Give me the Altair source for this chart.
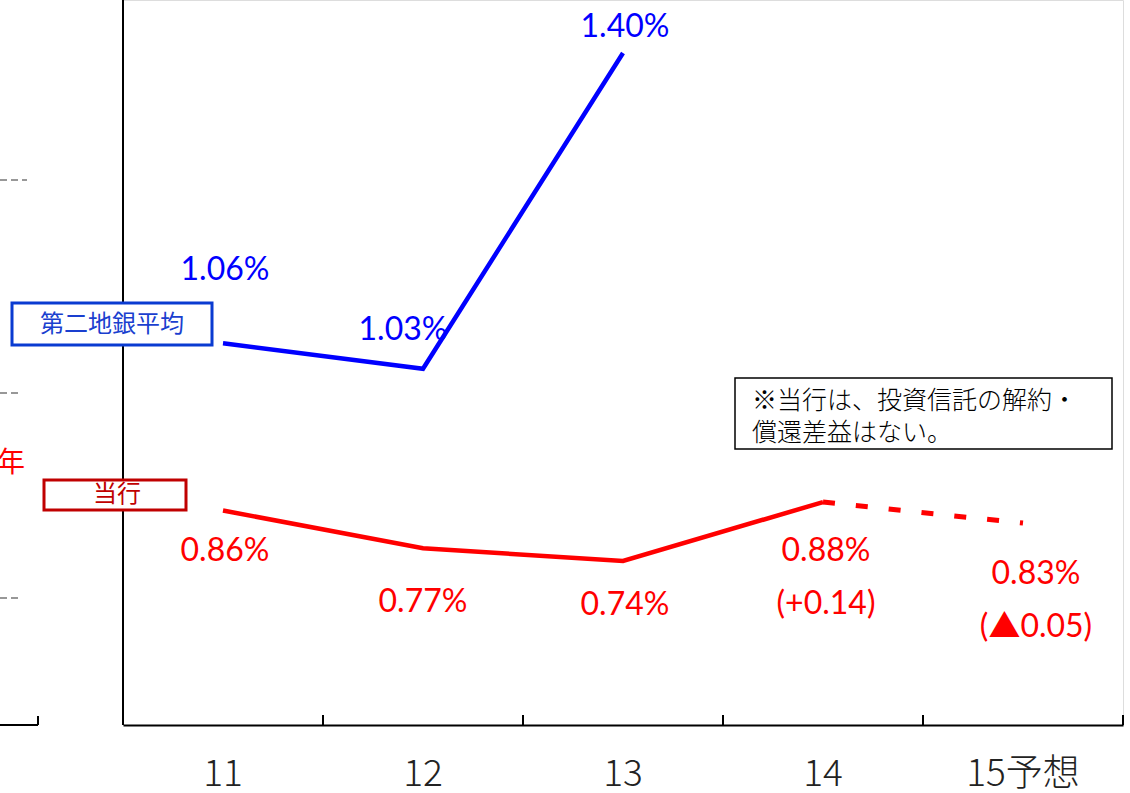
import altair as alt
import pandas as pd

# ---- data ----
years = ["11", "12", "13", "14", "15予想"]
avg_years = ["11", "12", "13"]
avg_values = [1.06, 1.03, 1.40]          # 第二地銀平均
avg_labels = ["1.06%", "1.03%", "1.40%"]
own_values = [0.86, 0.77, 0.74, 0.88, 0.83]  # 当行 (15 = 予想)
own_labels = ["0.86%", "0.77%", "0.74%", "0.88%", "0.83%"]
change_years = ["14", "15予想"]
change_labels = ["(+0.14)", "(▲0.05)"]

avg_df = pd.DataFrame({"year": avg_years, "value": avg_values, "label": avg_labels})
own_df = pd.DataFrame({"year": years, "value": own_values, "label": own_labels})
own_solid = own_df[own_df["year"].isin(["11", "12", "13", "14"])]
own_dash = own_df[own_df["year"].isin(["14", "15予想"])]
chg_df = pd.DataFrame({
    "year": change_years,
    "value": [own_values[years.index(y)] for y in change_years],
    "label": change_labels,
})
years_df = pd.DataFrame({"year": years})
one = pd.DataFrame({"a": [0]})

# ---- style ----
W, H = 1000, 725
BLUE = "#0000ff"
RED = "#ff0000"
JP = "Noto Sans CJK JP"
NUM = "Lato, 'Noto Sans CJK JP'"

xscale = alt.Scale(type="band", domain=years, paddingInner=0, paddingOuter=0)
xaxis = alt.Axis(title=None, domain=True, domainColor="black", domainWidth=2,
                 ticks=False, tickSize=0, labelAngle=0, labelFont=JP,
                 labelFontSize=37, labelFontWeight=300, labelColor="#222222",
                 labelPadding=31, grid=False)
X = alt.X("year:N", scale=xscale, axis=xaxis, bandPosition=0.5, sort=years)

yb = alt.Y("value:Q", scale=alt.Scale(domain=[0.6128, 1.4620], zero=False), axis=None)
yr = alt.Y("value:Q", scale=alt.Scale(domain=[0.3493, 2.0755], zero=False), axis=None)

# label offsets (dx, dy) in px
avg_off = {"11": (2, -73), "12": (-20, -39), "13": (2, -26)}
own_off = {"11": (2, 40), "12": (0, 54), "13": (2, 44), "14": (3, 49), "15予想": (13, 51)}
chg_off = {"14": (3, 102), "15予想": (13, 104)}


def labels(df, offs, color, y):
    layers = []
    for yr_, (dx, dy) in offs.items():
        layers.append(
            alt.Chart(df).transform_filter(alt.datum.year == yr_)
            .mark_text(font=NUM, fontSize=32, color=color, dx=dx, dy=dy,
                       baseline="middle", align="center")
            .encode(x=X, y=y, text="label:N")
        )
    return layers


# ---- blue group ----
blue_line = alt.Chart(avg_df).mark_line(color=BLUE, strokeWidth=4.5).encode(x=X, y=yb)
blue = alt.layer(blue_line, *labels(avg_df, avg_off, BLUE, yb))

# ---- red group ----
red_solid = alt.Chart(own_solid).mark_line(color=RED, strokeWidth=4.5).encode(x=X, y=yr)
red_dash = alt.Chart(own_dash).mark_line(color=RED, strokeWidth=5,
                                          strokeDash=[12, 21]).encode(x=X, y=yr)
red = alt.layer(red_solid, red_dash, *labels(own_df, own_off, RED, yr),
                *labels(chg_df, chg_off, RED, yr))

# ---- frame / decorations ----
base1 = alt.Chart(one)
yaxis_line = base1.mark_rule(color="black", strokeWidth=2).encode(
    x=alt.value(0), y=alt.value(0), y2=alt.value(H))
ticks = alt.Chart(years_df).mark_rule(color="black", strokeWidth=2).encode(
    x=alt.X("year:N", scale=xscale, axis=xaxis, bandPosition=0, sort=years),
    y=alt.value(H - 10), y2=alt.value(H))
end_tick = alt.Chart(years_df).transform_filter(alt.datum.year == "15予想").mark_rule(
    color="black", strokeWidth=2).encode(
    x=alt.X("year:N", scale=xscale, axis=xaxis, bandPosition=1, sort=years),
    y=alt.value(H - 10), y2=alt.value(H))

left_dash = [
    base1.mark_rule(color="#333333", strokeWidth=1.2, strokeDash=[7, 4]).encode(
        x=alt.value(-123), x2=alt.value(-96), y=alt.value(180)),
    base1.mark_rule(color="#333333", strokeWidth=1.2, strokeDash=[7, 4]).encode(
        x=alt.value(-123), x2=alt.value(-101), y=alt.value(393)),
    base1.mark_rule(color="#333333", strokeWidth=1.2, strokeDash=[7, 4]).encode(
        x=alt.value(-123), x2=alt.value(-101), y=alt.value(598)),
    base1.mark_rule(color="black", strokeWidth=2).encode(
        x=alt.value(-123), x2=alt.value(-85), y=alt.value(H)),
    base1.mark_rule(color="black", strokeWidth=2).encode(
        x=alt.value(-85), y=alt.value(H - 9), y2=alt.value(H)),
]
nen = base1.mark_text(text="年", font=JP, fontSize=28, color=RED, align="right",
                      baseline="middle").encode(x=alt.value(-98), y=alt.value(464))

avg_box = base1.mark_rect(fill="white", stroke="#0a3bd1", strokeWidth=3).encode(
    x=alt.value(-111), x2=alt.value(89), y=alt.value(303), y2=alt.value(345))
avg_box_t = base1.mark_text(text="第二地銀平均", font=JP, fontSize=24, color="#1a3fcf",
                            baseline="middle").encode(x=alt.value(-11), y=alt.value(325))
own_box = base1.mark_rect(fill="white", stroke="#c00000", strokeWidth=3).encode(
    x=alt.value(-79), x2=alt.value(63), y=alt.value(480), y2=alt.value(510))
own_box_t = base1.mark_text(text="当行", font=JP, fontSize=24, color="#c00000",
                            baseline="middle").encode(x=alt.value(-6), y=alt.value(495))

note_box = base1.mark_rect(fill="white", stroke="black", strokeWidth=1.5).encode(
    x=alt.value(612), x2=alt.value(989), y=alt.value(378), y2=alt.value(449))
note1 = base1.mark_text(text="※当行は、投資信託の解約・", font=JP, fontSize=25,
                        fontWeight=300, color="black", align="left",
                        baseline="middle").encode(x=alt.value(629), y=alt.value(401))
note2 = base1.mark_text(text="償還差益はない。", font=JP, fontSize=25,
                        fontWeight=300, color="black", align="left",
                        baseline="middle").encode(x=alt.value(629), y=alt.value(433))

chart = alt.layer(
    yaxis_line, ticks, end_tick, *left_dash, nen,
    blue, red,
    avg_box, avg_box_t, own_box, own_box_t, note_box, note1, note2,
).resolve_scale(y="independent").properties(
    width=W, height=H, autosize="none",
    padding={"left": 123, "top": 0, "right": 7, "bottom": 68},
).configure_view(stroke=None).configure(background="white")

chart.save("out.html", embed_options={"renderer": "svg", "actions": False})
